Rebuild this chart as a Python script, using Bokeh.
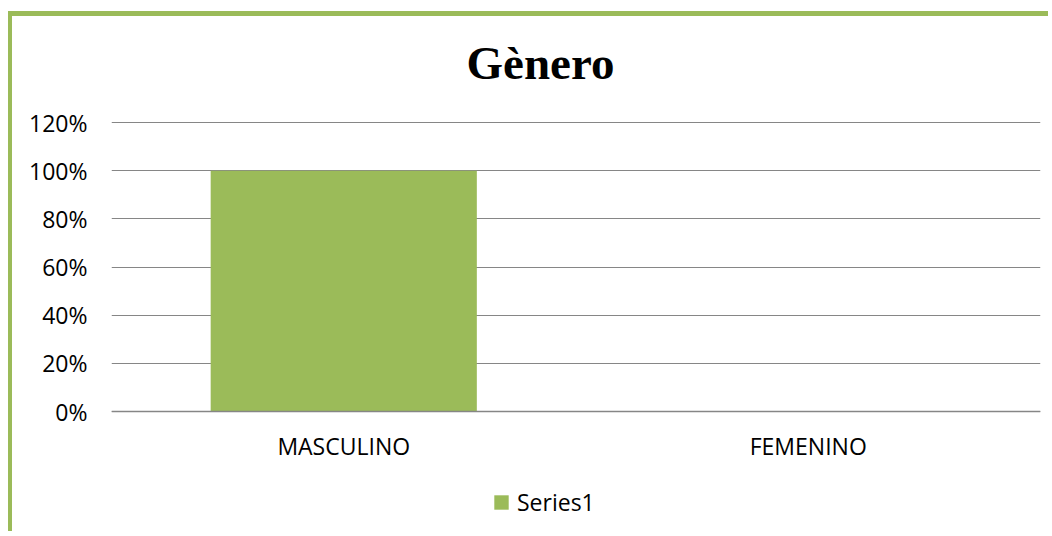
from bokeh.plotting import figure
from bokeh.models import (FactorRange, Range1d, FixedTicker, NumeralTickFormatter,
                          Legend, LegendItem, ColumnDataSource, Label)
from bokeh.embed import file_html
from bokeh.resources import INLINE

title_text = "Gènero"
categories = ["MASCULINO", "FEMENINO"]
values = [1.0, 0.0]
series_name = "Series1"
y_ticks = [0, 0.2, 0.4, 0.6, 0.8, 1.0, 1.2]

GREEN = "#9BBB59"
GRID = "#868686"
FONT = "Open Sans"

src = ColumnDataSource(dict(cat=categories, val=values))

# frame covers the whole canvas height; the 0% baseline sits inside it
p = figure(width=1040, height=520, output_backend="svg", toolbar_location=None,
           x_range=FactorRange(*categories, range_padding=0),
           y_range=Range1d(-0.4858, 1.6402),
           min_border_left=99, min_border_right=12, min_border_top=0, min_border_bottom=8)
p.x_range.factor_padding = 0
p.outline_line_color = None
p.background_fill_color = "white"
p.border_fill_color = "white"
p.styles = {"margin-left": "8px", "margin-top": "11px",
            "border-left": "4px solid " + GREEN, "border-top": "5px solid " + GREEN}

r = p.vbar(x="cat", top="val", bottom=0, width=0.573, source=src,
           fill_color=GREEN, line_color=None)

# axes
p.yaxis.ticker = FixedTicker(ticks=y_ticks)
p.yaxis.formatter = NumeralTickFormatter(format="0%")
p.yaxis.axis_line_color = None
p.yaxis.major_tick_line_color = None
p.yaxis.minor_tick_line_color = None
p.yaxis.major_label_standoff = 18
p.yaxis.major_label_text_font = FONT
p.yaxis.major_label_text_font_size = "23px"
p.yaxis.major_label_text_color = "black"

p.xaxis.fixed_location = 0
p.xaxis.axis_line_color = GRID
p.xaxis.axis_line_width = 1.5
p.xaxis.major_tick_line_color = None
p.xaxis.minor_tick_line_color = None
p.xaxis.major_label_standoff = 12
p.xaxis.major_label_text_font = FONT
p.xaxis.major_label_text_font_size = "23px"
p.xaxis.major_label_text_color = "black"

p.xgrid.grid_line_color = None
p.ygrid.grid_line_color = GRID
p.ygrid.grid_line_width = 1
p.ygrid.ticker = FixedTicker(ticks=y_ticks)

# title
p.add_layout(Label(x=0.9236, y=1.449, text=title_text, text_font="Liberation Serif",
                   text_font_size="47px", text_font_style="bold", text_color="black",
                   text_align="center", text_baseline="alphabetic"))

# legend (inside the frame, below the category labels)
legend = Legend(items=[LegendItem(label=series_name, renderers=[r])],
                location=(381, 10), orientation="horizontal",
                glyph_width=18, glyph_height=18, label_standoff=7,
                label_text_font=FONT, label_text_font_size="23px",
                label_text_color="black",
                padding=0, margin=0, border_line_color=None, background_fill_alpha=0)
p.add_layout(legend, "center")

open("out.html", "w").write(file_html(p, INLINE))
